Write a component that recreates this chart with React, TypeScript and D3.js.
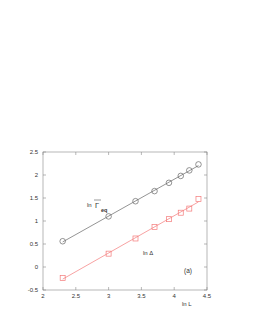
import * as d3 from 'd3';

const lnL = [2.3, 3.0, 3.41, 3.7, 3.92, 4.1, 4.23, 4.37];
const lnGamma = [0.56, 1.1, 1.43, 1.65, 1.83, 1.98, 2.1, 2.23];
const lnDelta = [-0.24, 0.29, 0.62, 0.87, 1.04, 1.18, 1.27, 1.48];
const xTicks = [2, 2.5, 3, 3.5, 4, 4.5];
const yTicks = [-0.5, 0, 0.5, 1, 1.5, 2, 2.5];

const W = 253;
const H = 327;
const M = { left: 43, right: 46, top: 152, bottom: 37 };

// least-squares line through the points
function fit(xs: number[], ys: number[]) {
  const mx = d3.mean(xs)!;
  const my = d3.mean(ys)!;
  const b = d3.sum(xs, (x, i) => (x - mx) * (ys[i] - my)) / d3.sum(xs, (x) => (x - mx) ** 2);
  return (x: number) => my + b * (x - mx);
}

export default function App() {
  const x = d3.scaleLinear().domain([2, 4.5]).range([M.left, W - M.right]);
  const y = d3.scaleLinear().domain([-0.5, 2.5]).range([H - M.bottom, M.top]);
  const fg = fit(lnL, lnGamma);
  const fd = fit(lnL, lnDelta);
  const x0 = lnL[0];
  const x1 = lnL[lnL.length - 1];
  const font = 'Liberation Sans, Arial, sans-serif';
  const tick = 3;
  const black = '#666';
  const red = '#f47a7a';

  return (
    <svg
      width={W}
      height={H}
      style={{ position: 'absolute', left: 0, top: 0, fontFamily: font }}
    >
      <rect x={0} y={0} width={W} height={H} fill="#fff" />
      <rect
        x={x(2)}
        y={y(2.5)}
        width={x(4.5) - x(2)}
        height={y(-0.5) - y(2.5)}
        fill="none"
        stroke="#888"
        strokeWidth={0.6}
      />
      {xTicks.map((t) => (
        <g key={'x' + t}>
          <line x1={x(t)} x2={x(t)} y1={y(-0.5)} y2={y(-0.5) - tick} stroke="#888" strokeWidth={0.6} />
          <line x1={x(t)} x2={x(t)} y1={y(2.5)} y2={y(2.5) + tick} stroke="#888" strokeWidth={0.6} />
          <text x={x(t)} y={y(-0.5) + 8} fontSize={6} textAnchor="middle" fill="#333">
            {t}
          </text>
        </g>
      ))}
      {yTicks.map((t) => (
        <g key={'y' + t}>
          <line x1={x(2)} x2={x(2) + tick} y1={y(t)} y2={y(t)} stroke="#888" strokeWidth={0.6} />
          <line x1={x(4.5)} x2={x(4.5) - tick} y1={y(t)} y2={y(t)} stroke="#888" strokeWidth={0.6} />
          <text x={x(2) - 5} y={y(t) + 2} fontSize={6} textAnchor="end" fill="#333">
            {t}
          </text>
        </g>
      ))}
      <line x1={x(x0)} y1={y(fg(x0))} x2={x(x1)} y2={y(fg(x1))} stroke={black} strokeWidth={0.7} />
      <line x1={x(x0)} y1={y(fd(x0))} x2={x(x1)} y2={y(fd(x1))} stroke={red} strokeWidth={0.7} />
      {lnL.map((v, i) => (
        <circle key={'c' + i} cx={x(v)} cy={y(lnGamma[i])} r={2.8} fill="none" stroke={black} strokeWidth={0.7} />
      ))}
      {lnL.map((v, i) => (
        <rect
          key={'s' + i}
          x={x(v) - 2.5}
          y={y(lnDelta[i]) - 2.5}
          width={5}
          height={5}
          fill="none"
          stroke={red}
          strokeWidth={0.7}
        />
      ))}
      {/* ln Γ_eq label */}
      <text x={87} y={207} fontSize={6} fill="#333">ln</text>
      <text x={95} y={207.5} fontSize={7.5} fill="#333">Γ</text>
      <line x1={94} x2={101} y1={200} y2={200} stroke="#333" strokeWidth={0.5} />
      <text x={101} y={211.5} fontSize={5.5} fontWeight="bold" fill="#333">eq</text>
      <text x={143} y={255} fontSize={6} fill="#333">ln Δ</text>
      <text x={184} y={273} fontSize={6.5} fill="#333">(a)</text>
      <text x={182} y={306} fontSize={6} fill="#333">ln L</text>
    </svg>
  );
}
